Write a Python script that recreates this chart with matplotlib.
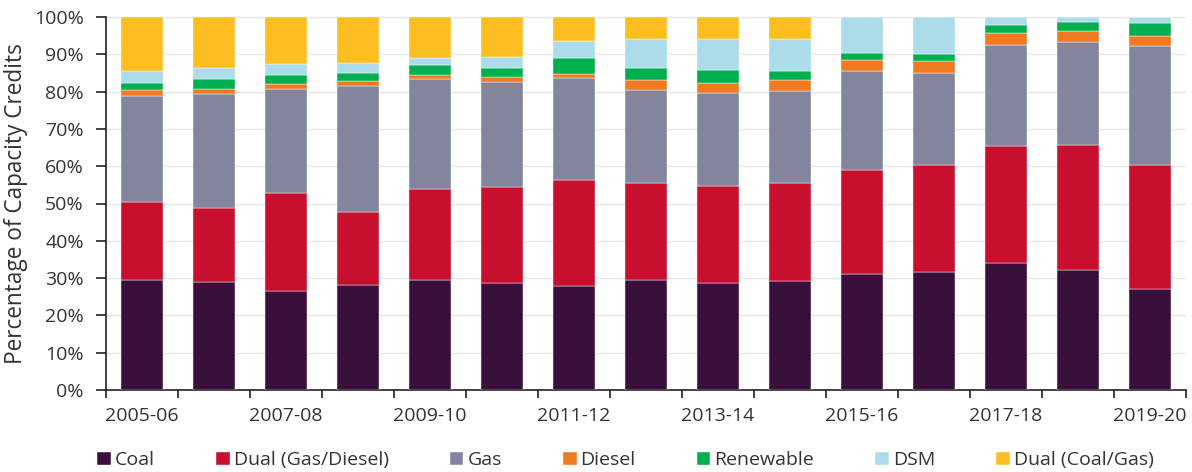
import matplotlib.pyplot as plt
import numpy as np

plt.rcParams['font.family'] = ['Open Sans', 'DejaVu Sans']

years = ['2005-06', '2006-07', '2007-08', '2008-09', '2009-10', '2010-11', '2011-12', '2012-13',
         '2013-14', '2014-15', '2015-16', '2016-17', '2017-18', '2018-19', '2019-20']

coal      = [29.4, 29.0, 26.5, 28.2, 29.4, 28.7, 27.9, 29.4, 28.8, 29.1, 31.0, 31.6, 34.0, 32.3, 27.2]
dual_gd   = [20.9, 19.8, 26.4, 19.5, 24.5, 25.8, 28.4, 26.0, 26.0, 26.3, 28.0, 28.6, 31.4, 33.5, 33.2]
gas       = [28.6, 30.5, 27.7, 33.9, 29.4, 28.1, 27.3, 25.0, 24.7, 24.8, 26.4, 24.7, 27.0, 27.6, 31.8]
diesel    = [1.5, 1.3, 1.4, 1.3, 1.2, 1.2, 1.2, 2.6, 2.9, 3.0, 3.0, 3.2, 3.4, 2.9, 2.7]
renewable = [2.0, 2.9, 2.5, 2.0, 2.6, 2.5, 4.1, 3.3, 3.3, 2.2, 1.9, 1.9, 2.1, 2.4, 3.6]
dsm       = [3.2, 2.9, 3.0, 2.9, 2.0, 3.0, 4.7, 7.7, 8.3, 8.6, 9.7, 10.0, 2.1, 1.3, 1.5]
dual_cg   = [14.4, 13.6, 12.5, 12.2, 10.9, 10.7, 6.4, 6.0, 6.0, 6.0, 0.0, 0.0, 0.0, 0.0, 0.0]

series = [
    ('Coal', coal, '#3a0f3c'),
    ('Dual (Gas/Diesel)', dual_gd, '#c8102e'),
    ('Gas', gas, '#83859e'),
    ('Diesel', diesel, '#f07a22'),
    ('Renewable', renewable, '#00b050'),
    ('DSM', dsm, '#acdcea'),
    ('Dual (Coal/Gas)', dual_cg, '#fdbf20'),
]

fig = plt.figure(figsize=(11.92, 4.72), dpi=100)
ax = fig.add_axes([106 / 1192, 1 - 390 / 472, 1080 / 1192, 373 / 472])

x = np.arange(len(years))
bottom = np.zeros(len(years))
for name, vals, col in series:
    vals = np.array(vals)
    ax.bar(x, vals, 0.58, bottom=bottom, color=col, label=name, zorder=3,
           edgecolor='white', linewidth=0.3)
    bottom += vals

ax.set_xlim(-0.5, len(years) - 0.5)
ax.set_ylim(0, 100)
ax.set_yticks(np.arange(0, 101, 10))
ax.set_yticklabels([f'{v}%' for v in range(0, 101, 10)])
ax.yaxis.grid(True, color='#e6e6e6', linewidth=1, zorder=0)

ax.set_xticks(x[::2])
ax.set_xticklabels(years[::2])
ax.set_xticks(np.arange(-0.5, len(years)), minor=True)
ax.tick_params(axis='x', which='major', length=0, pad=12)
ax.tick_params(axis='x', which='minor', length=6, width=1.2, color='#222222', direction='out')
ax.tick_params(axis='y', length=7, width=1.2, color='#222222', direction='out', pad=9)
ax.tick_params(labelsize=14, labelcolor='#333333')

for s in ['top', 'right']:
    ax.spines[s].set_visible(False)
for s in ['left', 'bottom']:
    ax.spines[s].set_color('#222222')
    ax.spines[s].set_linewidth(1.2)

ax.set_ylabel('Percentage of Capacity Credits', fontsize=16.3, color='#333333', labelpad=4)

ax.legend(loc='upper left', bbox_to_anchor=(-0.008, -0.164), ncol=7, frameon=False,
          fontsize=14, handlelength=0.7, handleheight=0.7, handletextpad=0.2,
          columnspacing=3.15, labelcolor='#333333', borderaxespad=0, borderpad=0)

fig.savefig('out.png', dpi=100)
